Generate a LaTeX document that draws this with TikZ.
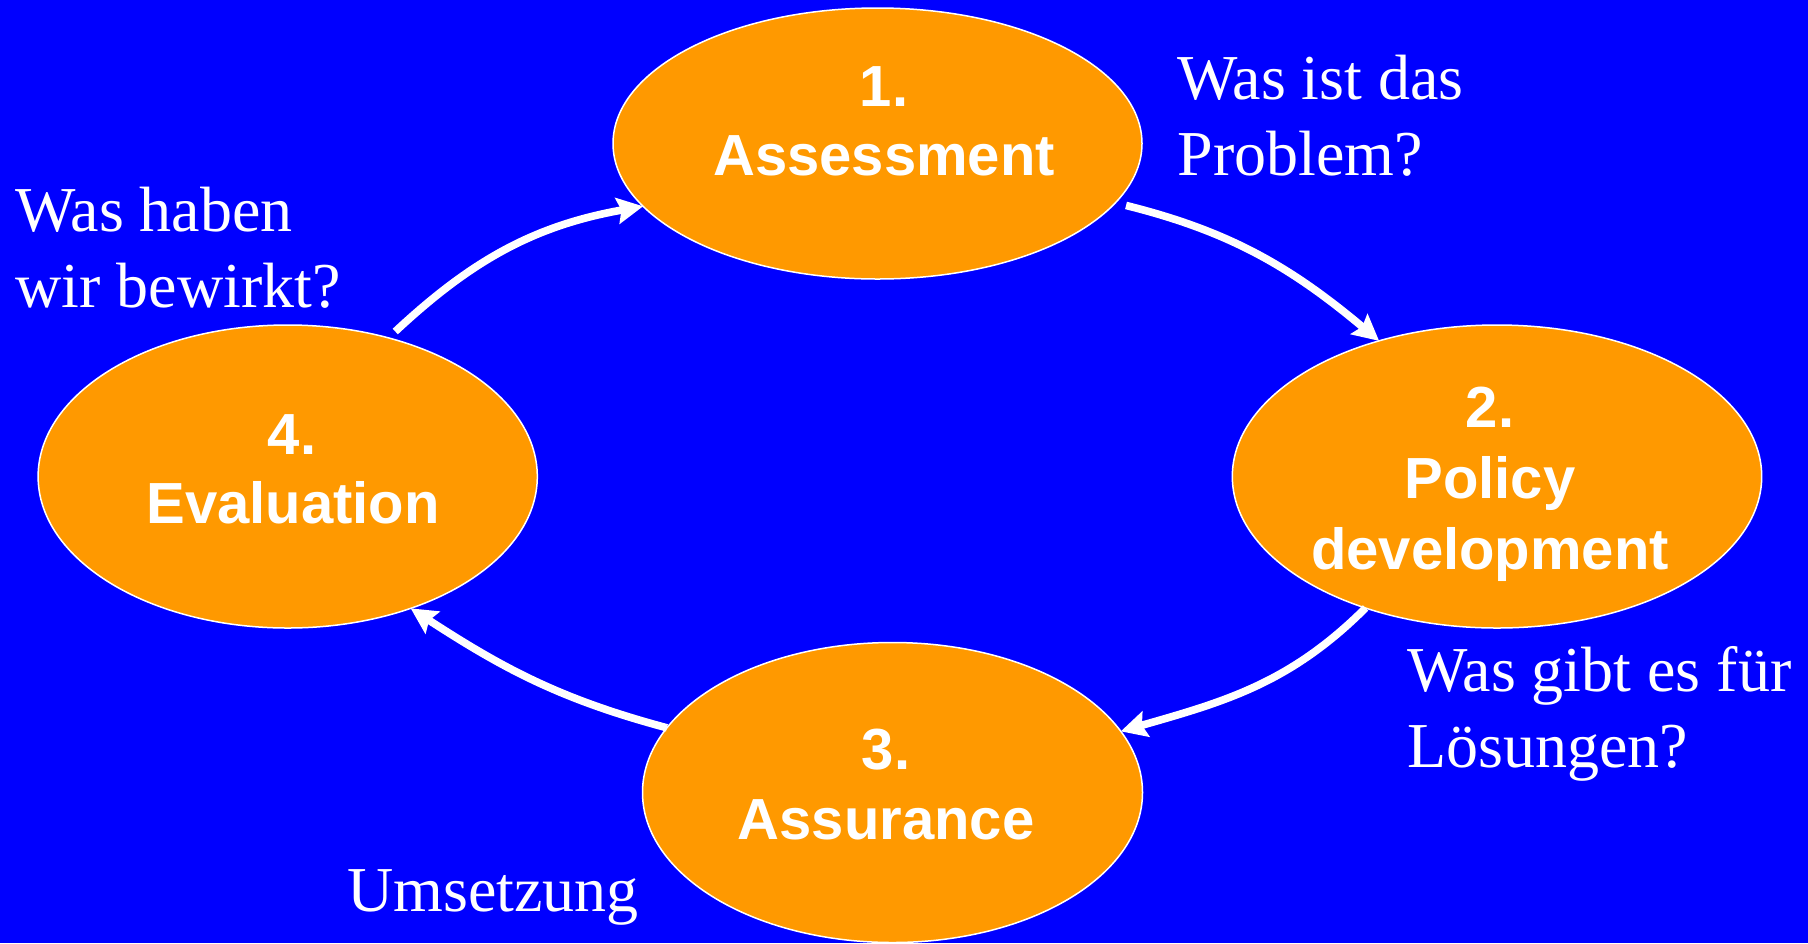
\documentclass[tikz,border=0pt]{standalone}
\usepackage{fontspec}
\setmainfont{Liberation Serif}
\setsansfont{Liberation Sans}
\usetikzlibrary{arrows.meta,shapes.geometric}
\definecolor{bgblue}{HTML}{0000FF}
\definecolor{phorange}{HTML}{FF9900}
\tikzset{
  stage/.style={ellipse, fill=phorange, draw=white, line width=0.75pt, inner sep=0pt, outer sep=0pt},
  stagetxt/.style={anchor=base, inner sep=0pt, text=white, font=\sffamily\bfseries\fontsize{29}{34}\selectfont},
  question/.style={anchor=base west, inner sep=0pt, text=white, font=\rmfamily\fontsize{32}{38}\selectfont},
  flow/.style={draw=white, line width=3.8pt, -{Stealth[length=13pt,width=13pt,inset=2pt]}}
}
\begin{document}
\begin{tikzpicture}[x=0.5pt,y=0.5pt]
\useasboundingbox (0,0) rectangle (1808,-943);
\fill[bgblue] (0,0) rectangle (1808,-943);

\node[stage, minimum width=264.5pt, minimum height=135.5pt] (e1) at (877.5,-143.5) {};
\node[stage, minimum width=264.7pt, minimum height=151.5pt] (e2) at (1497,-476.5) {};
\node[stage, minimum width=250pt, minimum height=150pt] (e3) at (892.5,-792.5) {};
\node[stage, minimum width=249.6pt, minimum height=151.5pt] (e4) at (287.7,-476.5) {};

\node[stagetxt] (t1a) at (884,-106) {1.};
\node[stagetxt] (t1b) at (884,-175) {Assessment};
\node[stagetxt] (t2a) at (1490,-427) {2.};
\node[stagetxt] (t2b) at (1490,-498) {Policy};
\node[stagetxt] (t2c) at (1490,-569) {development};
\node[stagetxt] (t3a) at (886,-769) {3.};
\node[stagetxt] (t3b) at (886,-839) {Assurance};
\node[stagetxt] (t4a) at (292,-454) {4.};
\node[stagetxt] (t4b) at (293,-523) {Evaluation};

\node[question] (q1a) at (1177,-99) {Was ist das};
\node[question] (q1b) at (1177,-175) {Problem?};
\node[question] (q4a) at (15,-231) {Was haben};
\node[question] (q4b) at (15,-307) {wir bewirkt?};
\node[question] (q2a) at (1407,-691) {Was gibt es für};
\node[question] (q2b) at (1407,-767) {Lösungen?};
\node[question] (q3a) at (347,-911) {Umsetzung};

\draw[flow, shorten <=4.7pt] (e4.54.3) to[out=43,in=190] (e1.195.6);
\draw[flow, shorten <=5.5pt] (e1.-14.4) to[out=-14,in=140] (e2.131.2);
\draw[flow] (e2.225.5) to[out=225,in=16] (e3.15.6);
\draw[flow] (e3.164.5) to[out=165,in=327] (e4.313.9);
\end{tikzpicture}
\end{document}
